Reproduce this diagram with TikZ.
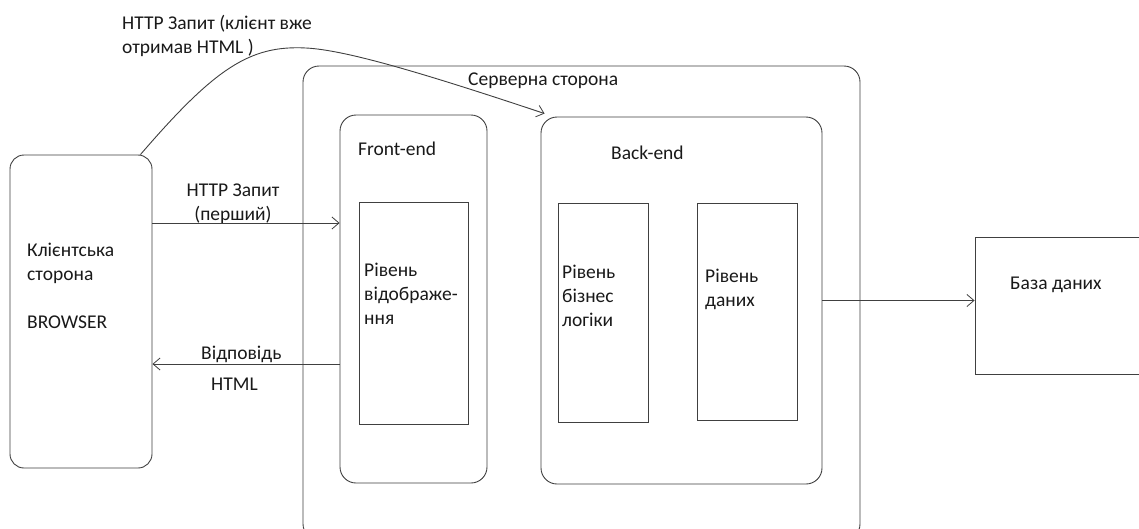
\documentclass[tikz,border=0pt]{standalone}
\usepackage{fontspec}
\setmainfont{Carlito}
\usetikzlibrary{arrows.meta}
\begin{document}
\begin{tikzpicture}[x=1pt,y=-1pt,
  box/.style={draw=black!75,line width=0.9pt,rectangle,inner sep=0pt,anchor=center},
  rbox/.style={box,rounded corners=14pt},
  lbl/.style={inner sep=0pt,align=left,anchor=north west,text=black!90,
    font=\fontsize{19.5}{24}\selectfont},
  clbl/.style={lbl,align=center,anchor=north},
  arr/.style={draw=black!75,line width=0.9pt,-{Straight Barb[length=7pt,width=12pt,line width=0.8pt]}}]
\clip (0,0) rectangle (1139,528);
\fill[white] (0,0) rectangle (1139,528);
% boxes
\node[rbox,minimum width=142pt,minimum height=313pt] (client) at (81,311.5) {};
\node[rbox,rounded corners=16pt,minimum width=557pt,minimum height=474pt] (server) at (581.5,303) {};
\node[rbox,rounded corners=16pt,minimum width=147pt,minimum height=368pt] (front) at (413.5,299) {};
\node[box,minimum width=109pt,minimum height=222pt] (vis) at (413.5,313) {};
\node[rbox,rounded corners=16pt,minimum width=281pt,minimum height=367pt] (back) at (681.5,300.5) {};
\node[box,minimum width=90pt,minimum height=219pt] (biz) at (603,312.5) {};
\node[box,minimum width=100pt,minimum height=217pt] (data) at (747,311.5) {};
\node[box,minimum width=168pt,minimum height=137pt] (db) at (1059,305.5) {};
% labels
\node[lbl] (tclient) at (27,239) {\strut Клієнтська\\сторона\\[24pt]BROWSER};
\node[lbl] (tserver) at (468,68) {\strut Серверна сторона};
\node[lbl] (tfront) at (358,138) {\strut Front-end};
\node[lbl] (tback) at (611,142) {\strut Back-end};
\node[lbl] (tvis) at (364,259) {\strut Рівень\\відображе-\\ння};
\node[lbl] (tbiz) at (562,261) {\strut Рівень\\бізнес\\логіки};
\node[lbl] (tdata) at (705,265) {\strut Рівень\\даних};
\node[lbl] (tdb) at (1010,272) {\strut База даних};
\node[lbl] (ttop) at (122,12) {\strut HTTP Запит (клієнт вже\\отримав HTML )};
\node[clbl] (treq) at (233,179) {\strut HTTP Запит\\(перший)};
\node[lbl] (tresp) at (201,342) {\strut Відповідь};
\node[lbl] (thtml) at (211,373) {\strut HTML};
% connectors
\draw[arr] (client.east |- 0,223) -- (front.west |- 0,223);
\draw[arr] (front.west |- 0,364) -- (client.east |- 0,364);
\draw[arr] (back.east) -- (back.east -| db.west);
\coordinate (cstart) at ([xshift=-12pt]client.north east);
\coordinate (cend) at ([shift={(4pt,3pt)}]back.north west);
\draw[arr] (cstart) .. controls (215,68) and (250,45) .. (306,48)
  .. controls (345,50) and (420,72) .. (cend);
\end{tikzpicture}
\end{document}
